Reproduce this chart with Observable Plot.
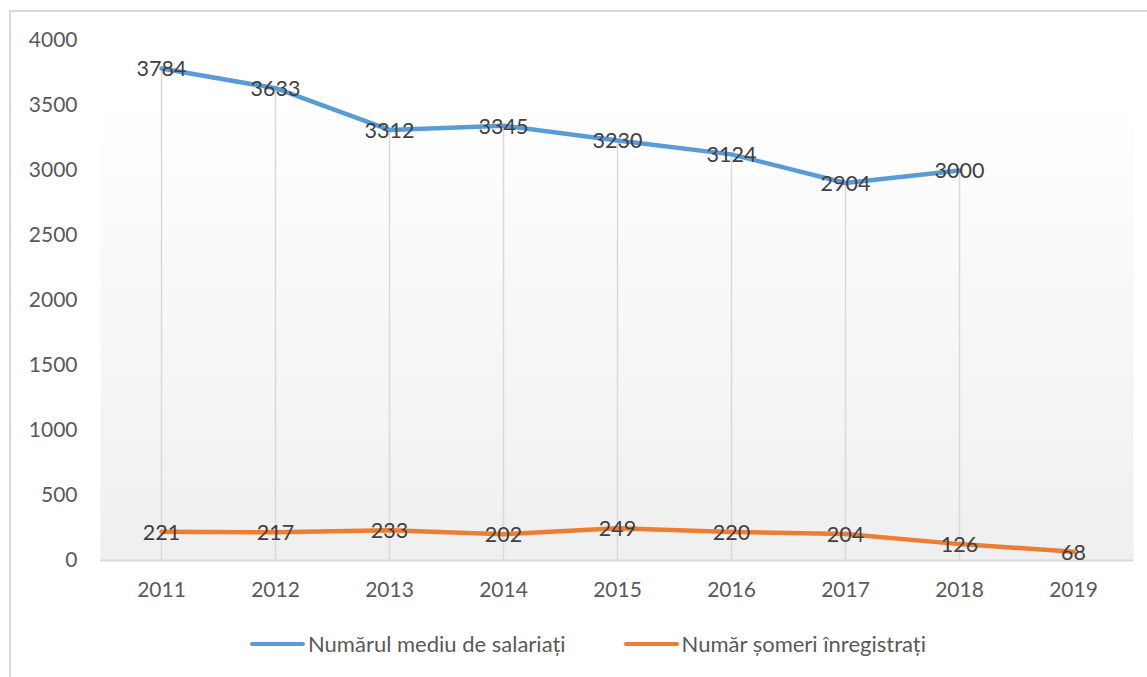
<!DOCTYPE html>
<html>
<head>
<meta charset="utf-8">
<script src="https://cdn.jsdelivr.net/npm/d3@7"></script>
<script src="https://cdn.jsdelivr.net/npm/@observablehq/plot@0.6"></script>
<style>
  html, body { margin: 0; padding: 0; background: #fff; width: 1147px; height: 677px; overflow: hidden; }
  #wrap { position: relative; width: 1147px; height: 677px; }
  #border { position: absolute; left: 9px; top: 10px; width: 1200px; height: 720px; border: 2px solid #d9d9d9; box-sizing: border-box; }
  #chart { position: absolute; left: 0; top: 0; }
  #legend { position: absolute; left: 250px; top: 630px; display: flex; align-items: center; font-family: Lato, "Open Sans", sans-serif; font-size: 22px; color: #595959; }
  .item { display: flex; align-items: center; margin-right: 58px; }
  .swatch { width: 55px; height: 4px; border-radius: 2px; margin-right: 3px; }
</style>
</head>
<body>
<div id="wrap">
  <div id="border"></div>
  <div id="chart"></div>
  <div id="legend"></div>
</div>
<script>
const years = ["2011", "2012", "2013", "2014", "2015", "2016", "2017", "2018", "2019"];
const salariati = [3784, 3633, 3312, 3345, 3230, 3124, 2904, 3000, null];
const someri = [221, 217, 233, 202, 249, 220, 204, 126, 68];
const seriesNames = ["Numărul mediu de salariați", "Număr șomeri înregistrați"];
const seriesColors = ["#5b9bd5", "#ed7d31"];
const yTicks = [0, 500, 1000, 1500, 2000, 2500, 3000, 3500, 4000];

const rows = [];
years.forEach((yr, i) => {
  if (salariati[i] != null) rows.push({year: yr, value: salariati[i], series: seriesNames[0]});
});
years.forEach((yr, i) => {
  if (someri[i] != null) rows.push({year: yr, value: someri[i], series: seriesNames[1]});
});
const blue = rows.filter(d => d.series === seriesNames[0]);
const orange = rows.filter(d => d.series === seriesNames[1]);

const font = "Lato, 'Open Sans', sans-serif";

const plot = Plot.plot({
  width: 1147,
  height: 610,
  marginLeft: 100,
  marginRight: 14,
  marginTop: 40,
  marginBottom: 50,
  style: {fontFamily: font, fontSize: "21px", color: "#595959", background: "transparent"},
  x: {type: "point", domain: years, padding: 0.5, label: null},
  y: {domain: [0, 4000], ticks: yTicks, label: null},
  marks: [
    Plot.frame({fill: "url(#bgGrad)", stroke: null}),
    Plot.ruleX(blue, {x: "year", y1: 0, y2: "value", stroke: "#d9d9d9", strokeWidth: 1.5}),
    Plot.ruleY([0], {stroke: "#d9d9d9", strokeWidth: 2}),
    Plot.axisY({ticks: yTicks, tickSize: 0, tickPadding: 23, fill: "#595959", tickFormat: d => String(d)}),
    Plot.axisX({tickSize: 0, tickPadding: 22, fill: "#595959"}),
    Plot.line(blue, {x: "year", y: "value", stroke: seriesColors[0], strokeWidth: 4.5, strokeLinejoin: "round", strokeLinecap: "round"}),
    Plot.line(orange, {x: "year", y: "value", stroke: seriesColors[1], strokeWidth: 4.5, strokeLinejoin: "round", strokeLinecap: "round"}),
    Plot.text(rows, {x: "year", y: "value", text: d => String(d.value), fill: "#404040", fontSize: 21.5, dy: 1})
  ]
});

const svg = d3.select(plot);
const defs = svg.insert("defs", ":first-child");
const grad = defs.append("linearGradient").attr("id", "bgGrad").attr("x1", 0).attr("y1", 0).attr("x2", 0).attr("y2", 1);
grad.append("stop").attr("offset", "0%").attr("stop-color", "#ffffff");
grad.append("stop").attr("offset", "10%").attr("stop-color", "#ffffff");
grad.append("stop").attr("offset", "100%").attr("stop-color", "#efefef");

document.getElementById("chart").appendChild(plot);

const legend = document.getElementById("legend");
seriesNames.forEach((name, i) => {
  const item = document.createElement("div");
  item.className = "item";
  const sw = document.createElement("div");
  sw.className = "swatch";
  sw.style.background = seriesColors[i];
  const label = document.createElement("span");
  label.textContent = name;
  item.appendChild(sw);
  item.appendChild(label);
  legend.appendChild(item);
});
</script>
</body>
</html>
